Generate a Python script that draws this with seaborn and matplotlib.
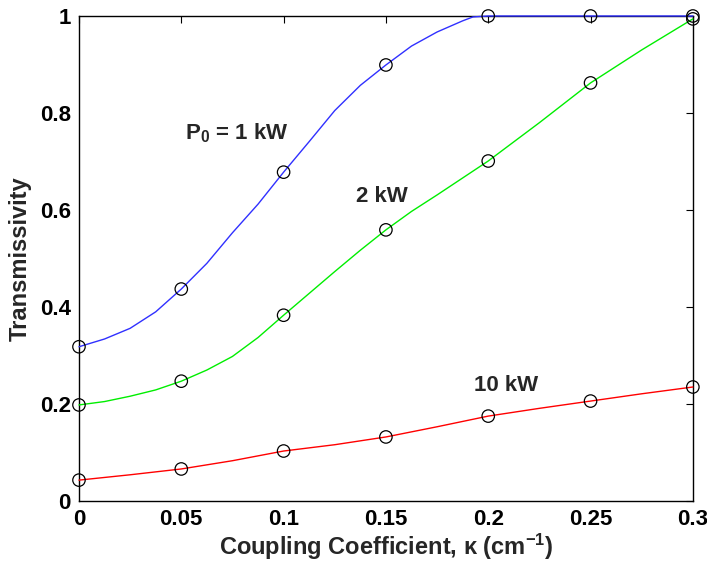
import numpy as np
import pandas as pd
import seaborn as sns
import matplotlib.pyplot as plt

# Transmissivity vs coupling coefficient for three input powers

# measured points (circles)
kappa = [0, 0.05, 0.1, 0.15, 0.2, 0.25, 0.3]
t_1kw = [0.318, 0.437, 0.678, 0.899, 1.0, 1.0, 1.0]
t_2kw = [0.198, 0.247, 0.383, 0.559, 0.701, 0.862, 0.994]
t_10kw = [0.043, 0.066, 0.103, 0.132, 0.175, 0.206, 0.235]

# smooth curves at finer steps
k_1kw = [0, 0.0125, 0.025, 0.0375, 0.05, 0.0625, 0.075, 0.0875, 0.1, 0.1125,
         0.125, 0.1375, 0.15, 0.1625, 0.175, 0.1875, 0.1925, 0.2, 0.25, 0.3]
c_1kw = [0.318, 0.334, 0.356, 0.390, 0.437, 0.490, 0.553, 0.612, 0.678, 0.741,
         0.805, 0.857, 0.899, 0.938, 0.967, 0.990, 0.998, 1.0, 1.0, 1.0]
k_2kw = [0, 0.0125, 0.025, 0.0375, 0.05, 0.0625, 0.075, 0.0875, 0.1, 0.1125,
         0.125, 0.1375, 0.15, 0.1625, 0.175, 0.1875, 0.2, 0.225, 0.25, 0.275,
         0.3]
c_2kw = [0.198, 0.205, 0.216, 0.229, 0.247, 0.270, 0.298, 0.337, 0.383, 0.428,
         0.473, 0.517, 0.559, 0.597, 0.631, 0.666, 0.701, 0.780, 0.862, 0.930,
         0.994]
k_10kw = [0, 0.025, 0.05, 0.075, 0.1, 0.125, 0.15, 0.175, 0.2, 0.225, 0.25,
          0.275, 0.3]
c_10kw = [0.043, 0.054, 0.066, 0.083, 0.103, 0.116, 0.132, 0.153, 0.175,
          0.191, 0.206, 0.221, 0.235]

x_ticks = [0, 0.05, 0.1, 0.15, 0.2, 0.25, 0.3]
x_labels = ['0', '0.05', '0.1', '0.15', '0.2', '0.25', '0.3']
y_ticks = [0, 0.2, 0.4, 0.6, 0.8, 1.0]
y_labels = ['0', '0.2', '0.4', '0.6', '0.8', '1']

sns.set_style('white')
plt.rcParams['font.family'] = ['Liberation Sans', 'DejaVu Sans']
plt.rcParams['font.weight'] = 'bold'
plt.rcParams['mathtext.fontset'] = 'custom'
plt.rcParams['mathtext.rm'] = 'Liberation Sans:bold'
plt.rcParams['mathtext.it'] = 'Liberation Sans:bold'
plt.rcParams['mathtext.bf'] = 'Liberation Sans:bold'

curves = pd.DataFrame({'kappa': k_1kw + k_2kw + k_10kw,
                       'T': c_1kw + c_2kw + c_10kw,
                       'P': ['1'] * len(k_1kw) + ['2'] * len(k_2kw)
                       + ['10'] * len(k_10kw)})
pts = pd.DataFrame({'kappa': kappa * 3,
                    'T': t_1kw + t_2kw + t_10kw})

fig = plt.figure(figsize=(7.07, 5.61), dpi=100)
ax = fig.add_axes([0.1117, 0.107, 0.8683, 0.8645])

sns.lineplot(data=curves, x='kappa', y='T', hue='P',
             palette={'1': '#3030ff', '2': '#00ee00', '10': '#ff0000'},
             linewidth=1.0, legend=False, ax=ax, clip_on=False, zorder=3)
sns.scatterplot(data=pts, x='kappa', y='T', marker='o', s=80,
                facecolor='none', edgecolor='black', linewidth=0.9,
                ax=ax, clip_on=False, zorder=4)

ax.set_xlim(0, 0.3)
ax.set_ylim(0, 1)
ax.set_xticks(x_ticks)
ax.set_xticklabels(x_labels)
ax.set_yticks(y_ticks)
ax.set_yticklabels(y_labels)
ax.tick_params(direction='in', top=True, right=True, length=5, width=0.8,
               labelsize=16, colors='black', pad=6)
for s in ax.spines.values():
    s.set_color('black')
    s.set_linewidth(1.0)

ax.set_xlabel(r'Coupling Coefficient, $\kappa$ (cm$^{-1}$)', fontsize=17,
              fontweight='bold', labelpad=1)
ax.set_ylabel('Transmissivity', fontsize=17, fontweight='bold', labelpad=6)

ax.text(0.077, 0.759, r'P$_0$ = 1 kW', fontsize=16, fontweight='bold',
        ha='center', va='center')
ax.text(0.148, 0.627, '2 kW', fontsize=16, fontweight='bold',
        ha='center', va='center')
ax.text(0.2086, 0.239, '10 kW', fontsize=16, fontweight='bold',
        ha='center', va='center')

fig.savefig('out.png', dpi=100)
